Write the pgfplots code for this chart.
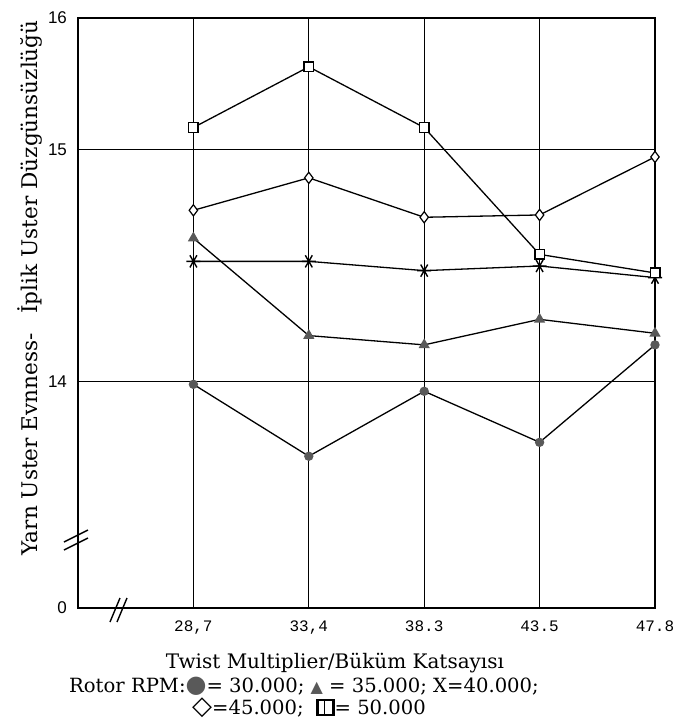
\documentclass[border=0pt]{standalone}
\usepackage{fontspec}
\setmainfont{DejaVu Serif}
\newfontfamily\tickfont{Liberation Sans}
\newfontfamily\monofont{Liberation Mono}
\newfontfamily\symfont{DejaVu Sans}
\usepackage{pgfplots}
\pgfplotsset{compat=1.18}
\definecolor{markgray}{gray}{0.35}
\begin{document}
\begin{tikzpicture}
\useasboundingbox (-39pt,-57.5pt) rectangle (299pt,304pt);
\begin{axis}[
  at={(0,0)}, anchor=south west,
  scale only axis, width=288.5pt, height=295pt,
  xmin=0, xmax=5, ymin=0, ymax=16,
  y coord trafo/.code={\pgfmathparse{(#1>=15)?(458+(#1-15)*132):((#1>=13.2)?(226+(#1-14)*232):(#1*3.06))}},
  ytick={0,14,15,16}, yticklabels={0,14,15,16},
  xtick={1,2,3,4,5}, xticklabels={{28,7},{33,4},38.3,43.5,47.8},
  grid=major, major grid style={black, line width=0.5pt},
  major tick length=0pt,
  axis line style={line width=0.8pt},
  yticklabel style={font=\tickfont\fontsize{8.5}{9}\selectfont, xshift=-2pt},
  xticklabel style={font=\monofont\fontsize{8}{9}\selectfont, yshift=-3pt},
  every axis plot/.append style={black, line width=0.65pt},
  clip=false,
]
% 30.000 circles
\addplot[mark=*, mark size=2pt, mark options={fill=markgray, draw=markgray}] coordinates {(1,13.99) (2,13.68) (3,13.96) (4,13.74) (5,14.16)};
% 35.000 triangles
\addplot[mark=triangle*, mark size=2.6pt, mark options={fill=markgray, draw=markgray}] coordinates {(1,14.62) (2,14.20) (3,14.16) (4,14.27) (5,14.21)};
% 40.000 X
\addplot[mark=asterisk, mark size=3.5pt, mark options={rotate=90, line width=0.7pt}] coordinates {(1,14.52) (2,14.52) (3,14.48) (4,14.50) (5,14.45)};
% 45.000 diamonds
\addplot[mark=diamond*, mark size=2.8pt, mark options={fill=white, draw=black, line width=0.6pt}] coordinates {(1,14.74) (2,14.88) (3,14.71) (4,14.72) (5,14.97)};
% 50.000 squares
\addplot[mark=square*, mark size=2.4pt, mark options={fill=white, draw=black, line width=0.7pt}] coordinates {(1,15.17) (2,15.63) (3,15.17) (4,14.55) (5,14.47)};
\end{axis}
% axis breaks
\draw[line width=0.7pt] (16pt,-7pt) -- (21pt,5pt);
\draw[line width=0.7pt] (19.5pt,-7pt) -- (24.5pt,5pt);
\draw[line width=0.7pt] (-7pt,29pt) -- (5pt,35pt);
\draw[line width=0.7pt] (-7pt,33pt) -- (5pt,39pt);
% labels
\node[rotate=90, font=\fontsize{10.8}{12}\selectfont] at (-24pt,160pt) {Yarn Uster Evnness-\hspace{0.9em}İplik Uster Düzgünsüzlüğü};
\node[font=\fontsize{10}{12}\selectfont] at (128.5pt,-27.5pt) {Twist Multiplier/Büküm Katsayısı};
\node[font=\fontsize{9.8}{12}\selectfont] at (113pt,-39pt) {Rotor RPM:{\symfont\fontsize{12}{12}\selectfont\textcolor{markgray}{●}}= 30.000; {\symfont\fontsize{8}{8}\selectfont\textcolor{markgray}{▲}} = 35.000; X=40.000;};
\node[font=\fontsize{9.8}{12}\selectfont] at (115.5pt,-50pt) {{\symfont\fontsize{13}{13}\selectfont ◇}=45.000;\ \ \tikz[baseline=0pt]{\draw[line width=1.2pt] (0,0) rectangle (8pt,7.5pt); \draw[line width=0.6pt] (3.5pt,0)--(3.5pt,7.5pt);}= 50.000};
\end{tikzpicture}
\end{document}
